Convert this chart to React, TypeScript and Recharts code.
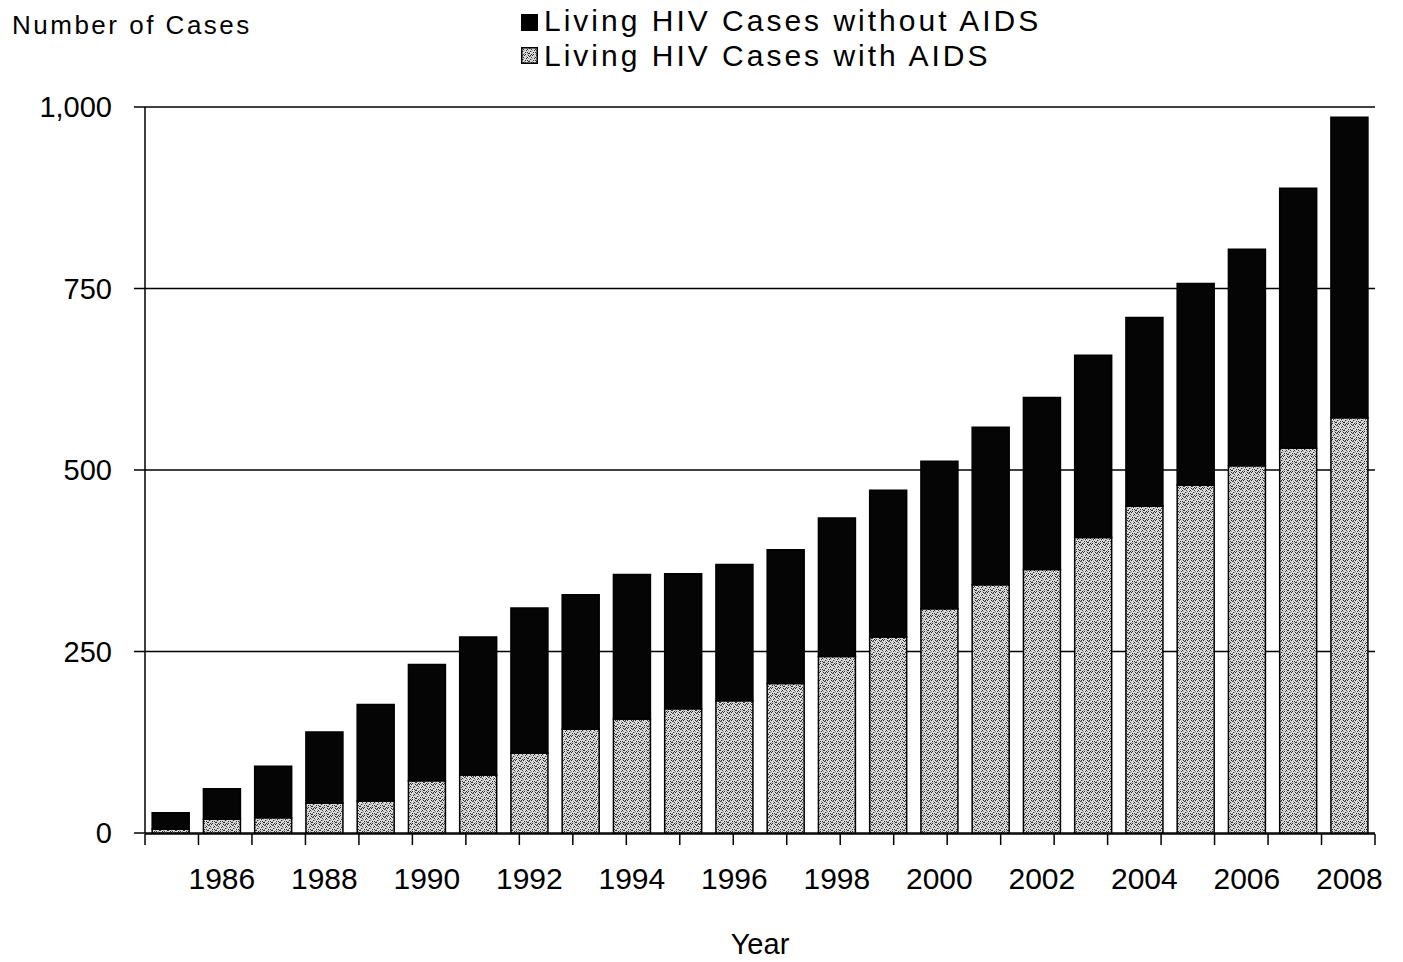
import React from 'react';
import { BarChart, Bar, XAxis, YAxis, CartesianGrid } from 'recharts';

const years = [1985, 1986, 1987, 1988, 1989, 1990, 1991, 1992, 1993, 1994, 1995, 1996, 1997, 1998, 1999, 2000, 2001, 2002, 2003, 2004, 2005, 2006, 2007, 2008];
const withAids = [5, 19, 21, 41, 44, 72, 80, 110, 143, 157, 171, 182, 206, 243, 270, 309, 342, 363, 407, 450, 479, 506, 530, 572];
const withoutAids = [23, 42, 71, 98, 133, 160, 190, 200, 185, 199, 186, 188, 184, 191, 202, 203, 217, 237, 251, 260, 278, 298, 358, 414];
const yTicks = [0, 250, 500, 750, 1000];

const data = years.map((y, i) => ({ year: y, withAids: withAids[i], withoutAids: withoutAids[i] }));
const boundaries = Array.from({ length: years.length + 1 }, (_, i) => i);

const FONT = '"Liberation Sans", Arial, Helvetica, sans-serif';

const stipple: [number, number][] = [[0, 1], [3, 0], [6, 2], [1, 4], [4, 5], [7, 6], [2, 7], [5, 3], [0, 6], [6, 5], [2, 2], [7, 0], [4, 7], [1, 0]];
const stippleMid: [number, number][] = [[1, 1], [5, 1], [3, 3], [7, 3], [0, 5], [6, 7], [3, 6], [2, 4]];

function StipplePattern({ id }: { id: string }) {
  return (
    <pattern id={id} width={8} height={8} patternUnits="userSpaceOnUse">
      <rect width={8} height={8} fill="#dcdcdc" />
      {stippleMid.map(([x, y], k) => <rect key={'m' + k} x={x} y={y} width={1} height={1} fill="#9a9a9a" />)}
      {stipple.map(([x, y], k) => <rect key={k} x={x} y={y} width={1} height={1} fill="#2a2a2a" />)}
    </pattern>
  );
}

export default function App() {
  return (
    <div style={{ position: 'absolute', left: 0, top: 0, width: 1403, height: 962, background: '#fff', fontFamily: FONT }}>
      <div style={{ position: 'absolute', left: 12, top: 12, fontSize: 26, lineHeight: 1, letterSpacing: 2.5, color: '#000' }}>Number of Cases</div>
      <div style={{ position: 'absolute', left: 521, top: 14, width: 15, height: 15, background: '#000', border: '1px solid #000' }} />
      <div style={{ position: 'absolute', left: 544, top: 6, fontSize: 30, lineHeight: 1, letterSpacing: 3, color: '#000' }}>Living HIV Cases without AIDS</div>
      <svg style={{ position: 'absolute', left: 521, top: 47 }} width={17} height={17}>
        <defs>
          <StipplePattern id="stippleLeg" />
        </defs>
        <rect x={0.75} y={0.75} width={15.5} height={15.5} fill="url(#stippleLeg)" stroke="#000" strokeWidth={1.5} />
      </svg>
      <div style={{ position: 'absolute', left: 544, top: 41, fontSize: 30, lineHeight: 1, letterSpacing: 3, color: '#000' }}>Living HIV Cases with AIDS</div>

      <BarChart
        width={1403}
        height={962}
        data={data}
        margin={{ top: 107, right: 28, left: 0, bottom: 0 }}
        barCategoryGap="14%"
      >
        <defs>
          <StipplePattern id="stipple" />
        </defs>
        <CartesianGrid vertical={false} stroke="#000" strokeWidth={1.5} />
        <XAxis
          dataKey="year"
          height={1}
          interval={0}
          axisLine={false}
          tickLine={false}
          tickSize={0}
          tickMargin={35}
          tickFormatter={(v: number) => (v % 2 === 0 ? String(v) : '')}
          tick={{ fill: '#000', fontSize: 30, fontFamily: FONT }}
          label={{ value: 'Year', position: 'bottom', offset: 99, fill: '#000', fontSize: 29, fontFamily: FONT }}
        />
        <XAxis
          xAxisId="bnd"
          type="number"
          domain={[0, years.length]}
          ticks={boundaries}
          interval={0}
          allowDataOverflow
          height={128}
          tickFormatter={() => ''}
          tick={{ fill: '#000', fontSize: 10 }}
          tickSize={11}
          axisLine={{ stroke: '#000', strokeWidth: 1.5 }}
          tickLine={{ stroke: '#000', strokeWidth: 1.5 }}
        />
        <YAxis
          width={145}
          domain={[0, 1000]}
          ticks={yTicks}
          interval={0}
          tickSize={11}
          tickMargin={22}
          axisLine={{ stroke: '#000', strokeWidth: 1.5 }}
          tickLine={{ stroke: '#000', strokeWidth: 1.5 }}
          tickFormatter={(v: number) => v.toLocaleString('en-US')}
          tick={{ fill: '#000', fontSize: 29, fontFamily: FONT }}
        />
        <Bar dataKey="withAids" stackId="a" fill="url(#stipple)" stroke="#000" strokeWidth={1.5} isAnimationActive={false} />
        <Bar dataKey="withoutAids" stackId="a" fill="#050505" stroke="#000" strokeWidth={1.5} isAnimationActive={false} />
      </BarChart>
    </div>
  );
}
